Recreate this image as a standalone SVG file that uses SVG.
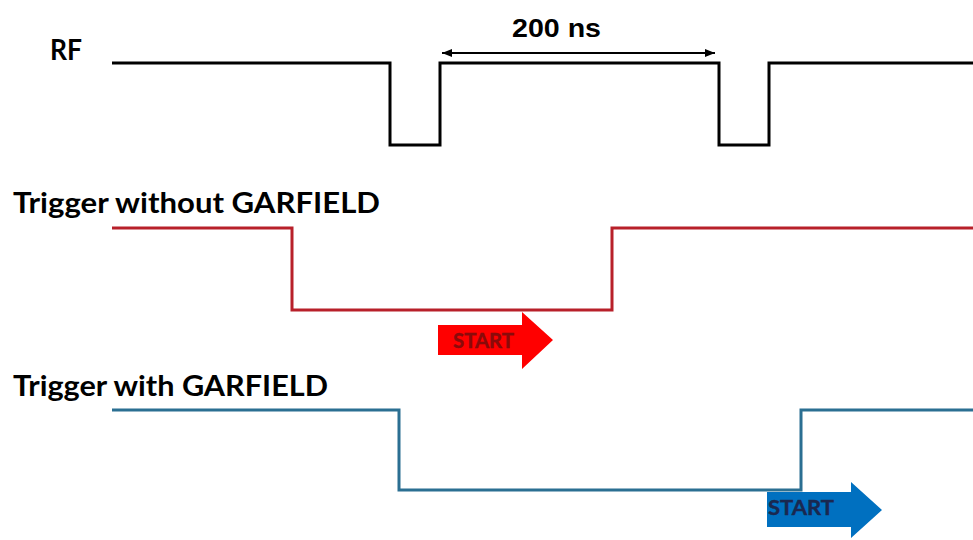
<svg xmlns="http://www.w3.org/2000/svg" width="973" height="540" viewBox="0 0 973 540">
  <style>
    .lbl { font-family: Lato, "Open Sans", "Liberation Sans", sans-serif; font-weight: bold; font-size: 29px; fill: #000; }
    .wave { fill: none; stroke-width: 3; stroke-linejoin: miter; }
    .start { font-family: Lato, "Open Sans", "Liberation Sans", sans-serif; font-weight: bold; font-size: 21px; }
    .dim { font-family: "Liberation Sans", Arial, sans-serif; font-weight: bold; font-size: 26px; fill: #000; }
  </style>
  <defs>
    <marker id="ah" viewBox="0 0 10 10" refX="10" refY="5" markerWidth="10" markerHeight="10" markerUnits="userSpaceOnUse" orient="auto-start-reverse">
      <path d="M0,1 L10,5 L0,9 Z" fill="#000"/>
    </marker>
  </defs>
  <rect width="973" height="540" fill="#fff"/>

  <g id="rf">
    <text class="lbl" x="50" y="60" textLength="32" lengthAdjust="spacingAndGlyphs">RF</text>
    <path class="wave" stroke="#000" d="M112,63 H390 V145 H440 V63 H719 V145 H769 V63 H973"/>
  </g>

  <g id="trigger-without">
    <text class="lbl" x="13" y="213" textLength="367" lengthAdjust="spacingAndGlyphs">Trigger without GARFIELD</text>
    <path class="wave" stroke="#b8202a" d="M112,228 H292 V310 H612 V228 H973"/>
  </g>

  <g id="start-red">
    <polygon points="438,325 522,325 522,312 553,340 522,369 522,355 438,355" fill="#ff0000"/>
    <text class="start" x="453" y="348" fill="#8a0a0a" stroke="#8a0a0a" stroke-width="0.4" textLength="61" lengthAdjust="spacingAndGlyphs">START</text>
  </g>

  <g id="trigger-with">
    <text class="lbl" x="13" y="396" textLength="315" lengthAdjust="spacingAndGlyphs">Trigger with GARFIELD</text>
    <path class="wave" stroke="#2b6f92" d="M112,410 H399 V490 H801 V410 H973"/>
  </g>

  <g id="start-blue">
    <polygon points="767,492 851,492 851,482 882,510 851,538 851,527 767,527" fill="#0070c0"/>
    <text class="start" x="768" y="515" fill="#1a2850" stroke="#1a2850" stroke-width="0.4" textLength="66" lengthAdjust="spacingAndGlyphs">START</text>
  </g>

  <g id="connectors">
    <line x1="442" y1="53" x2="715" y2="53" stroke="#000" stroke-width="2" marker-start="url(#ah)" marker-end="url(#ah)"/>
    <text class="dim" x="512" y="37" textLength="89" lengthAdjust="spacingAndGlyphs">200 ns</text>
  </g>
</svg>
